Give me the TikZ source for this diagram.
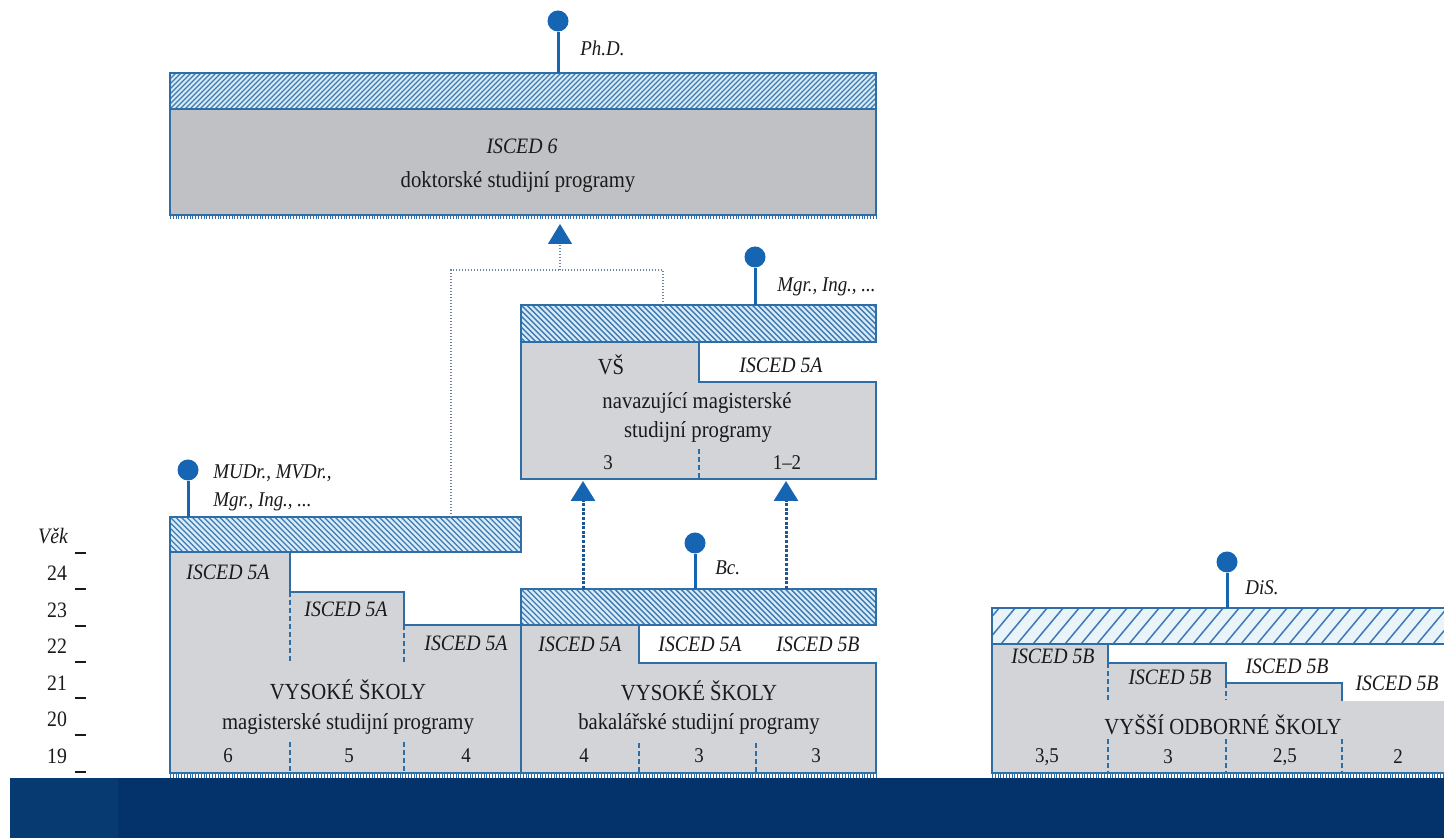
\documentclass[tikz,border=0pt]{standalone}
\usepackage{fontspec}
\setmainfont{Liberation Serif}[FakeStretch=0.9]
\usetikzlibrary{arrows.meta}
\definecolor{lineblue}{HTML}{2F6DA6}
\definecolor{pinblue}{HTML}{1565B2}
\definecolor{boxgray}{HTML}{D3D4D8}
\definecolor{docgray}{HTML}{C0C1C4}
\definecolor{hbg}{HTML}{D8EBF6}
\definecolor{hline}{HTML}{3D7AB3}
\definecolor{vbg}{HTML}{E8F3FA}
\definecolor{navy}{HTML}{03336A}
\definecolor{navyl}{HTML}{083A72}
\definecolor{txt}{HTML}{1A1A1A}
\definecolor{dotc}{HTML}{6F8399}
\definecolor{dashc}{HTML}{1F5590}
\newcommand\hatchF[7]{%
  \begin{scope}
    \clip (#1,#2) rectangle (#3,#4);
    \pgfmathtruncatemacro\hN{(#3-#1+60)/#5}%
    \foreach \i in {0,...,\hN}{\draw[#6] ({#1-55+\i*#5},#4) -- ++(#7,-55);}
  \end{scope}}
\newcommand\hatchB[6]{%
  \begin{scope}
    \clip (#1,#2) rectangle (#3,#4);
    \pgfmathtruncatemacro\hN{(#3-#1+60)/#5}%
    \foreach \i in {0,...,\hN}{\draw[#6] ({#1-55+\i*#5},#2) -- ++(55,55);}
  \end{scope}}
\begin{document}
\begin{tikzpicture}[x=0.5pt,y=-0.5pt,
 outl/.style={draw=lineblue, line width=1pt},
 hl/.style={hline, line width=0.7pt},
 hlv/.style={hline, line width=0.75pt},
 pin/.style={circle, fill=pinblue, minimum size=10.5pt, inner sep=0pt},
 stem/.style={pinblue, line width=1.5pt},
 isced/.style={font=\fontsize{11}{13}\selectfont\itshape, text=txt, inner sep=0pt},
 head/.style={font=\fontsize{11.5}{13}\selectfont, text=txt, inner sep=0pt},
 sub/.style={font=\fontsize{11.5}{13}\selectfont, text=txt, inner sep=0pt},
 num/.style={font=\fontsize{10.5}{12}\selectfont, text=txt, inner sep=0pt},
 age/.style={font=\fontsize{11}{13}\selectfont, text=txt, inner sep=0pt},
 deg/.style={font=\fontsize{10.5}{12.5}\selectfont\itshape, text=txt, inner sep=0pt, anchor=west},
 div/.style={lineblue, line width=0.8pt, dash pattern=on 2.5pt off 1.5pt},
 fringe/.style={lineblue, line width=2pt, dash pattern=on 0.5pt off 0.9pt},
 tick/.style={txt, line width=0.8pt},
 dotconn/.style={dotc, line width=0.6pt, dash pattern=on 0.6pt off 0.9pt},
 dashconn/.style={dashc, line width=1.5pt, dash pattern=on 1.5pt off 0.8pt},
 tip/.style={-{Triangle[width=12pt,length=10pt,color=pinblue]}},
 ]
\useasboundingbox (0,0) rectangle (1444,838);
\fill[white] (0,0) rectangle (1444,838);

% ---------- doctoral block ----------
\fill[docgray] (170,109) rectangle (876,215);
\fill[hbg] (170,73) rectangle (876,109);
\hatchF{170}{73}{876}{109}{5}{hl}{55}
\draw[outl] (170,73) rectangle (876,215);
\draw[outl] (170,109) -- (876,109);
\draw[fringe] (170,217.5) -- (876,217.5);
\node[isced] (t6) at (522,146) {ISCED 6};
\node[sub] (t6b) at (518,182) {doktorské studijní programy};
\node[pin] (pphd) at (558,21) {};
\coordinate (cphd) at (558,73);
\draw[stem] (pphd) -- (cphd);
\node[deg] (lphd) at (580,48) {Ph.D.};

% ---------- follow-up master block ----------
\fill[boxgray] (521,342) -- (699,342) -- (699,382) -- (876,382) -- (876,479) -- (521,479) -- cycle;
\fill[hbg] (521,305) rectangle (876,342);
\hatchB{521}{305}{876}{342}{5.5}{hl}
\draw[outl] (521,305) rectangle (876,342);
\draw[outl] (521,342) -- (521,479) -- (876,479) -- (876,382) -- (699,382) -- (699,342);
\draw[div] (699,449) -- (699,479);
\node[head] (tvs) at (611,365) {VŠ};
\node[isced] (tvs5a) at (781,365) {ISCED 5A};
\node[sub] (tnav1) at (697,403) {navazující magisterské};
\node[sub] (tnav2) at (698,432) {studijní programy};
\node[num] (nv1) at (608,463) {3};
\node[num] (nv2) at (787,463) {1–2};
\node[pin] (pmg) at (755,257) {};
\coordinate (cmg) at (755,305);
\draw[stem] (pmg) -- (cmg);
\node[deg] (lmg) at (777,287) {Mgr., Ing., ...};

% ---------- long master block ----------
\fill[boxgray] (170,552) -- (290,552) -- (290,592) -- (404,592) -- (404,625) -- (521,625) -- (521,773) -- (170,773) -- cycle;
\fill[hbg] (170,517) rectangle (521,552);
\hatchB{170}{517}{521}{552}{5.5}{hl}
\draw[outl] (170,517) rectangle (521,552);
\draw[outl] (170,552) -- (170,773) -- (521,773) -- (521,625) -- (404,625) -- (404,592) -- (290,592) -- (290,552);
\draw[div] (290,592) -- (290,662);
\draw[div] (290,742) -- (290,773);
\draw[div] (404,625) -- (404,662);
\draw[div] (404,742) -- (404,773);
\node[isced] (tl1) at (228,572) {ISCED 5A};
\node[isced] (tl2) at (346,609) {ISCED 5A};
\node[isced] (tl3) at (466,643) {ISCED 5A};
\node[head] (tl4) at (348,690) {VYSOKÉ ŠKOLY};
\node[sub] (tl5) at (348,724) {magisterské studijní programy};
\node[num] (nl1) at (228,756) {6};
\node[num] (nl2) at (349,756) {5};
\node[num] (nl3) at (466,756) {4};
\node[pin] (pmud) at (188,470) {};
\coordinate (cmud) at (188,517);
\draw[stem] (pmud) -- (cmud);
\node[deg] (lmud1) at (213,473) {MUDr., MVDr.,};
\node[deg] (lmud2) at (213,502) {Mgr., Ing., ...};

% ---------- bachelor block ----------
\fill[boxgray] (521,625) -- (639,625) -- (639,663) -- (876,663) -- (876,773) -- (521,773) -- cycle;
\fill[hbg] (521,589) rectangle (876,625);
\hatchB{521}{589}{876}{625}{5.5}{hl}
\draw[outl] (521,589) rectangle (876,625);
\draw[outl] (521,625) -- (521,773) -- (876,773) -- (876,663) -- (639,663) -- (639,625);
\draw[div] (639,743) -- (639,773);
\draw[div] (756,743) -- (756,773);
\draw[fringe] (170,775.5) -- (876,775.5);
\node[isced] (tb1) at (580,644) {ISCED 5A};
\node[isced] (tb2) at (700,644) {ISCED 5A};
\node[isced] (tb3) at (818,644) {ISCED 5B};
\node[head] (tb4) at (699,691) {VYSOKÉ ŠKOLY};
\node[sub] (tb5) at (699,724) {bakalářské studijní programy};
\node[num] (nb1) at (584,756) {4};
\node[num] (nb2) at (699,756) {3};
\node[num] (nb3) at (816,756) {3};
\node[pin] (pbc) at (695,543) {};
\coordinate (cbc) at (695,589);
\draw[stem] (pbc) -- (cbc);
\node[deg] (lbc) at (715,568) {Bc.};

% ---------- VOŠ block ----------
\fill[boxgray] (992,644) -- (1108,644) -- (1108,663) -- (1226,663) -- (1226,683) -- (1342,683) -- (1342,701) -- (1450,701) -- (1450,773) -- (992,773) -- cycle;
\fill[vbg] (992,608) rectangle (1450,644);
\hatchF{992}{608}{1450}{644}{16}{hlv}{46}
\draw[outl] (992,608) rectangle (1450,644);
\draw[outl] (992,644) -- (992,773) -- (1450,773);
\draw[outl] (1108,644) -- (1108,663) -- (1226,663) -- (1226,683) -- (1342,683) -- (1342,701);
\draw[div] (1108,663) -- (1108,700);
\draw[div] (1108,739) -- (1108,773);
\draw[div] (1226,683) -- (1226,700);
\draw[div] (1226,739) -- (1226,773);
\draw[div] (1342,739) -- (1342,773);
\draw[fringe] (992,775.5) -- (1444,775.5);
\node[isced] (tv1) at (1053,656) {ISCED 5B};
\node[isced] (tv2) at (1170,677) {ISCED 5B};
\node[isced] (tv3) at (1287,666) {ISCED 5B};
\node[isced] (tv4) at (1397,683) {ISCED 5B};
\node[head] (tv5) at (1223,725) {VYŠŠÍ ODBORNÉ ŠKOLY};
\node[num] (nv5a) at (1047,757) {3,5};
\node[num] (nv5b) at (1168,757) {3};
\node[num] (nv5c) at (1285,757) {2,5};
\node[num] (nv5d) at (1398,757) {2};
\node[pin] (pdis) at (1227,562) {};
\coordinate (cdis) at (1227,608);
\draw[stem] (pdis) -- (cdis);
\node[deg] (ldis) at (1245,588) {DiS.};

% ---------- age axis ----------
\node[age, font=\fontsize{11}{13}\selectfont\itshape] (vek) at (53,536) {Věk};
\foreach \yy in {553,589,626,662,698,735,772} \draw[tick] (75,\yy) -- (86,\yy);
\node[age] (a24) at (57,573) {24};
\node[age] (a23) at (57,610) {23};
\node[age] (a22) at (57,646) {22};
\node[age] (a21) at (57,683) {21};
\node[age] (a20) at (57,719) {20};
\node[age] (a19) at (57,756) {19};

% ---------- connectors ----------
\coordinate (lhtop) at (451,517);
\coordinate (vshtop) at (663,305);
\coordinate (merge) at (560,270);
\coordinate (docbot) at (560,224);
\draw[dotconn] (lhtop) |- (merge);
\draw[dotconn] (vshtop) |- (merge);
\draw[dotconn, tip] (merge) -- (docbot);
\coordinate (b1) at (583,589);
\coordinate (v1) at (583,481);
\coordinate (b2) at (786,589);
\coordinate (v2) at (786,481);
\draw[dashconn, tip] (b1) -- (v1);
\draw[dashconn, tip] (b2) -- (v2);

% ---------- bottom band ----------
\fill[navy] (10,778) rectangle (1444,838);
\fill[navyl] (10,778) rectangle (118,838);
\end{tikzpicture}
\end{document}
